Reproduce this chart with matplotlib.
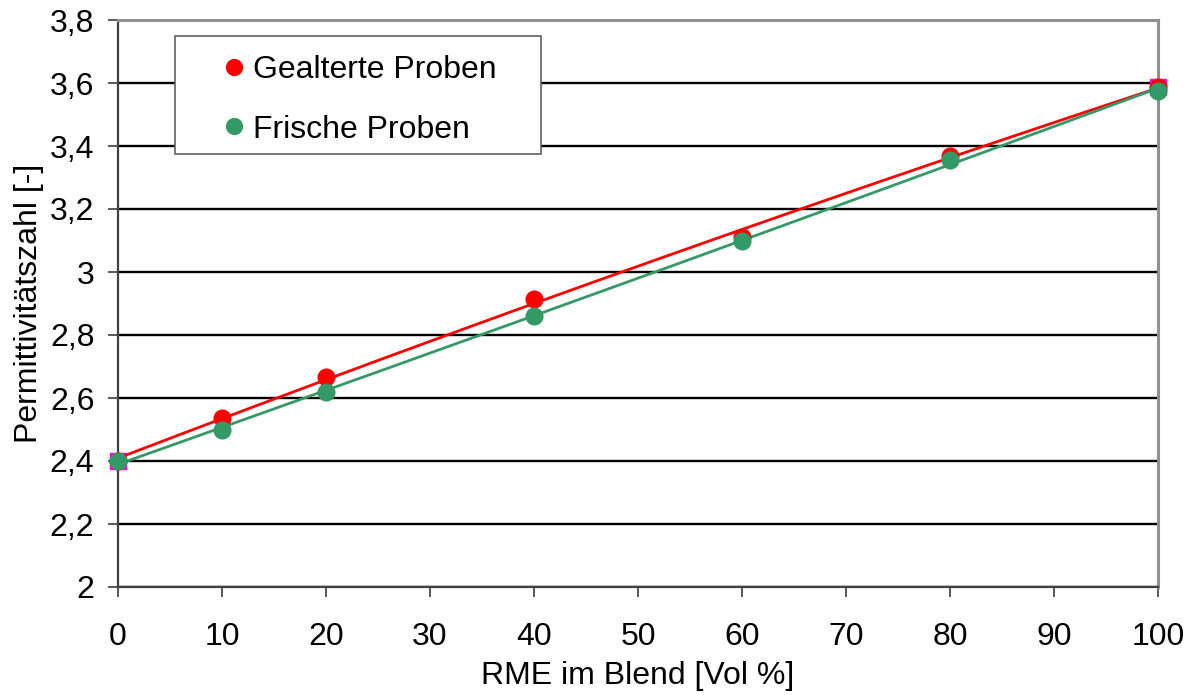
import matplotlib.pyplot as plt
from matplotlib.patches import Rectangle
from matplotlib.ticker import FuncFormatter
import numpy as np

plt.rcParams['font.family'] = ['Liberation Sans', 'DejaVu Sans']

# RME-Anteil im Blend und gemessene Permittivitaet
rme = [0, 10, 20, 40, 60, 80, 100]
gealtert = [2.40, 2.537, 2.667, 2.914, 3.111, 3.368, 3.587]
frisch = [2.40, 2.498, 2.619, 2.860, 3.098, 3.356, 3.575]

# Reinstoffe (Diesel / RME) als Eckpunkte
ende_x = [0, 100]
ende_y = [2.40, 3.587]

fs = 23

fig = plt.figure(figsize=(11.97, 6.95), dpi=100)
ax = fig.add_axes([118 / 1197, 108 / 695, 1040 / 1197, 567 / 695])

ax.set_xlim(0, 100)
ax.set_ylim(2, 3.8)
ax.set_xticks(np.arange(0, 101, 10))
ax.set_yticks(np.arange(2, 3.81, 0.2))
ax.yaxis.set_major_formatter(FuncFormatter(lambda v, p: ('%g' % round(v, 1)).replace('.', ',')))

ax.grid(axis='y', color='black', lw=1.7, zorder=0)
ax.tick_params(direction='out', length=7, width=1.2, labelsize=fs, colors='#404040', labelcolor='black')
ax.tick_params(axis='x', pad=18)
ax.tick_params(axis='y', pad=10)
for s in ['left', 'bottom']:
    ax.spines[s].set_color('#404040')
    ax.spines[s].set_linewidth(1.6)
for s in ['top', 'right']:
    ax.spines[s].set_color('#909090')
    ax.spines[s].set_linewidth(2.2)

# Trendlinien (Polynom 2. Grades)
xs = np.linspace(0, 100, 200)
ax.plot(xs, np.polyval(np.polyfit(rme, gealtert, 2), xs), color='#ff0000', lw=2, zorder=3)
ax.plot(xs, np.polyval(np.polyfit(rme, frisch, 2), xs), color='#339966', lw=2, zorder=3)

ax.plot(ende_x, ende_y, ls='none', marker='s', ms=12, color='#ff00ff', zorder=2, clip_on=False)
ax.plot(rme, gealtert, ls='none', marker='o', ms=12, color='#ff0000', zorder=4,
        clip_on=False, label='Gealterte Proben')
ax.plot(rme, frisch, ls='none', marker='o', ms=12, color='#339966', zorder=5,
        clip_on=False, label='Frische Proben')

# Legendenrahmen
ax.add_patch(Rectangle((0.0548, 0.7637), 0.3519, 0.2081, transform=ax.transAxes,
                       facecolor='white', edgecolor='#606060', lw=1.2, zorder=9))
leg = ax.legend(loc='upper left', bbox_to_anchor=(0.1023, 0.938), fontsize=fs, frameon=False,
                handlelength=0.6, handletextpad=0.3, borderpad=0, labelspacing=0.92,
                borderaxespad=0, markerscale=0.95)
leg.set_zorder(10)

ax.set_xlabel('RME im Blend [Vol %]', fontsize=fs, labelpad=7)
ax.set_ylabel('Permittivitätszahl [-]', fontsize=fs, labelpad=4)

fig.savefig('out.png', dpi=100)
